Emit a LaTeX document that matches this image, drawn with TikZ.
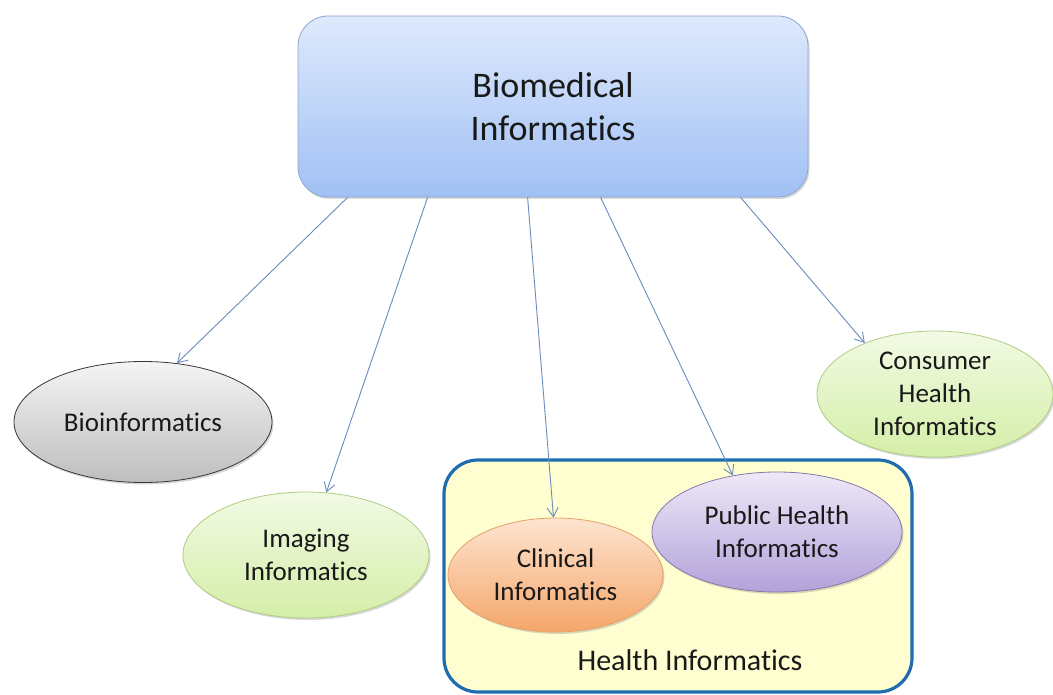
\documentclass[tikz,border=0pt]{standalone}
\usepackage{fontspec}
\setmainfont{Carlito}[Ligatures=NoCommon]
\usetikzlibrary{shapes.geometric,arrows.meta,shadows,calc}
\definecolor{txt}{RGB}{25,25,25}
\definecolor{arrowc}{RGB}{105,140,190}
\definecolor{topA}{RGB}{222,233,252}
\definecolor{topB}{RGB}{160,192,244}
\definecolor{topE}{RGB}{140,165,210}
\definecolor{grayA}{RGB}{244,244,244}
\definecolor{grayB}{RGB}{190,190,190}
\definecolor{grayE}{RGB}{55,55,55}
\definecolor{grnA}{RGB}{242,250,228}
\definecolor{grnB}{RGB}{212,238,168}
\definecolor{grnE}{RGB}{175,205,130}
\definecolor{orA}{RGB}{253,228,208}
\definecolor{orB}{RGB}{245,166,106}
\definecolor{orE}{RGB}{230,160,105}
\definecolor{puA}{RGB}{238,233,248}
\definecolor{puB}{RGB}{178,162,218}
\definecolor{puE}{RGB}{135,120,170}
\definecolor{hiE}{RGB}{30,110,175}
\definecolor{hiF}{RGB}{255,254,208}
\tikzset{
  softshadow/.style={drop shadow={shadow xshift=1.5pt,shadow yshift=-2pt,opacity=0.25,fill=black!60}},
  oval/.style={shape=ellipse,inner sep=0pt,text=txt,align=center,softshadow,line width=0.8pt,
    font=\fontsize{27}{33}\selectfont},
  link/.style={draw=arrowc,line width=0.9pt,-{Straight Barb[length=9pt,width=11pt,line width=0.9pt]}},
}
\begin{document}
\begin{tikzpicture}[x=1pt,y=-1pt]
\useasboundingbox[fill=white] (0,0) rectangle (1053,695);
% health informatics container
\node[draw=hiE,line width=3.2pt,fill=hiF,rounded corners=34pt,minimum width=468pt,minimum height=232pt,inner sep=0pt]
  (health) at (678,576) {};
\node[text=txt,font=\fontsize{30}{36}\selectfont] (healthlbl) at (690,660) {Health Informatics};
% top box
\node[draw=topE,line width=0.8pt,top color=topA,bottom color=topB,rounded corners=30pt,
  minimum width=510pt,minimum height=181pt,inner sep=0pt,align=center,text=txt,softshadow,
  font=\fontsize{36}{43}\selectfont] (top) at (553,106.5) {Biomedical\\Informatics};
% ellipses
\node[oval,draw=grayE,top color=grayA,bottom color=grayB,minimum width=258pt,minimum height=121pt]
  (bio) at (143,422) {Bioinformatics};
\node[oval,draw=grnE,top color=grnA,bottom color=grnB,minimum width=246pt,minimum height=126pt]
  (img) at (306,555) {Imaging\\Informatics};
\node[oval,draw=orE,top color=orA,bottom color=orB,minimum width=215pt,minimum height=114pt]
  (clin) at (555.5,575) {Clinical\\Informatics};
\node[oval,draw=puE,top color=puA,bottom color=puB,minimum width=250pt,minimum height=120pt]
  (pub) at (777,532) {Public Health\\Informatics};
\node[oval,draw=grnE,top color=grnA,bottom color=grnB,minimum width=236pt,minimum height=126pt]
  (cons) at (935,394) {Consumer\\Health\\Informatics};
% connectors
\draw[link] ($(top.south west)+(50,0)$) -- (bio.60.6);
\draw[link] ($(top.south west)+(130,0)$) -- (img.72.4);
\draw[link] ($(top.south west)+(230,0)$) -- (clin.92);
\draw[link] ($(top.south west)+(303,0)$) -- (pub.128);
\draw[link] ($(top.south west)+(443,0)$) -- (cons.144.5);
\end{tikzpicture}
\end{document}
